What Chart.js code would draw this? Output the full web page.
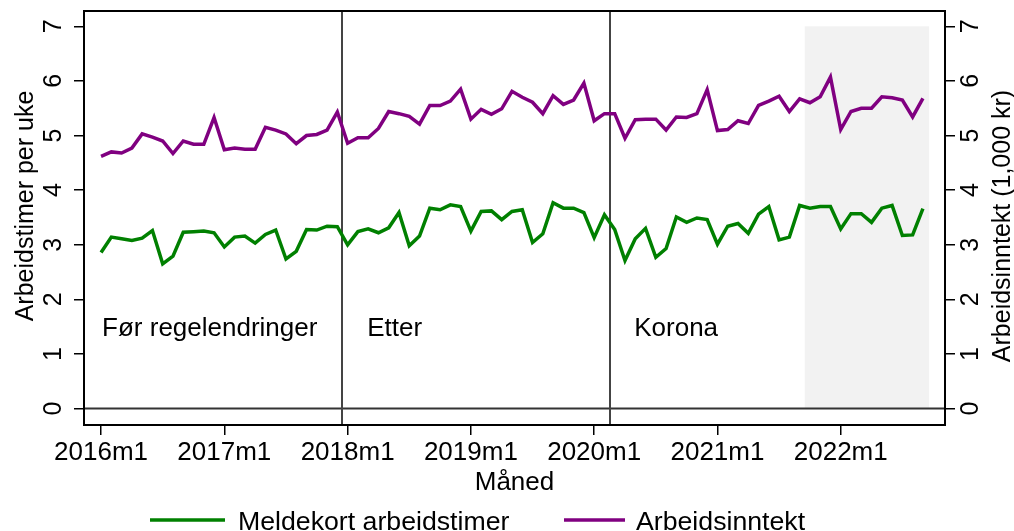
<!DOCTYPE html>
<html>
<head>
<meta charset="utf-8">
<script src="https://cdn.jsdelivr.net/npm/chart.js@4/dist/chart.umd.min.js"></script>
<style>
html, body { margin: 0; padding: 0; background: #fff; }
#wrap { width: 1014px; height: 531px; }
</style>
</head>
<body>
<div id="wrap"><canvas id="chart" width="1014" height="531"></canvas></div>
<script>
// months 2016m1 .. 2022m9
const months = [];
for (let i = 0; i < 81; i++) months.push((2016 + Math.floor(i / 12)) + 'm' + (i % 12 + 1));

// Meldekort arbeidstimer (timer per uke)
const hours = [
  2.86, 3.14, 3.11, 3.08, 3.12, 3.26, 2.65, 2.79, 3.23, 3.24, 3.25, 3.22,
  2.96, 3.14, 3.16, 3.03, 3.19, 3.27, 2.74, 2.88, 3.28, 3.27, 3.34, 3.33,
  3.00, 3.24, 3.29, 3.22, 3.31, 3.59, 2.98, 3.16, 3.67, 3.64, 3.73, 3.70,
  3.25, 3.61, 3.62, 3.46, 3.61, 3.64, 3.04, 3.20, 3.77, 3.67, 3.67, 3.59,
  3.13, 3.55, 3.28, 2.71, 3.11, 3.30, 2.77, 2.93, 3.51, 3.41, 3.49, 3.46,
  3.01, 3.34, 3.39, 3.21, 3.56, 3.70, 3.09, 3.14, 3.72, 3.67, 3.70, 3.70,
  3.29, 3.57, 3.57, 3.41, 3.67, 3.72, 3.17, 3.18, 3.66
];

// Arbeidsinntekt (1,000 kr)
const income = [
  4.62, 4.70, 4.68, 4.77, 5.03, 4.97, 4.90, 4.67, 4.90, 4.84, 4.84, 5.33,
  4.74, 4.77, 4.75, 4.75, 5.15, 5.10, 5.03, 4.85, 5.00, 5.02, 5.10, 5.43,
  4.86, 4.96, 4.96, 5.13, 5.44, 5.40, 5.35, 5.21, 5.55, 5.55, 5.63, 5.85,
  5.30, 5.48, 5.39, 5.49, 5.81, 5.70, 5.61, 5.40, 5.73, 5.57, 5.65, 5.96,
  5.27, 5.40, 5.40, 4.95, 5.29, 5.30, 5.30, 5.10, 5.34, 5.33, 5.40, 5.84,
  5.09, 5.11, 5.27, 5.22, 5.55, 5.63, 5.72, 5.44, 5.67, 5.60, 5.71, 6.07,
  5.11, 5.44, 5.50, 5.50, 5.71, 5.69, 5.65, 5.34, 5.68
];

const xTickMonths = ['2016m1', '2017m1', '2018m1', '2019m1', '2020m1', '2021m1', '2022m1'];
const yTicks = [0, 1, 2, 3, 4, 5, 6, 7];
const periodNames = ['Før regelendringer', 'Etter', 'Korona'];

const FONT = "'Liberation Sans', Arial, Helvetica, sans-serif";
const GREEN = '#008000';
const PURPLE = '#800080';

// breaks between periods sit half a month after 2017m12 and 2020m2
const breaks = [months.indexOf('2017m12') + 0.5, months.indexOf('2020m2') + 0.5];
const labelAt = [0.1, 25.9, 51.9];
const shade = [68.5, 80.6];

const decor = {
  id: 'decor',
  beforeDatasetsDraw(chart) {
    const { ctx, chartArea: a, scales: { x, y } } = chart;
    ctx.save();
    // grey band at the end
    const sx0 = x.getPixelForValue(shade[0]), sx1 = x.getPixelForValue(shade[1]);
    const top7 = y.getPixelForValue(7), y0 = y.getPixelForValue(0);
    ctx.fillStyle = '#f2f2f2';
    ctx.fillRect(sx0, top7, sx1 - sx0, y0 - top7);

    // zero line
    ctx.strokeStyle = '#333';
    ctx.lineWidth = 2;
    ctx.beginPath();
    ctx.moveTo(a.left, y0);
    ctx.lineTo(a.right, y0);
    ctx.stroke();

    // period breaks
    ctx.strokeStyle = '#444';
    ctx.lineWidth = 2;
    breaks.forEach(b => {
      const px = Math.round(x.getPixelForValue(b));
      ctx.beginPath();
      ctx.moveTo(px, a.top);
      ctx.lineTo(px, a.bottom);
      ctx.stroke();
    });

    // period names
    ctx.fillStyle = '#000';
    ctx.font = '26px ' + FONT;
    ctx.textAlign = 'left';
    ctx.textBaseline = 'alphabetic';
    periodNames.forEach((name, i) => {
      ctx.fillText(name, x.getPixelForValue(labelAt[i]), y.getPixelForValue(1.33));
    });
    ctx.restore();
  },
  afterDraw(chart) {
    const { ctx, chartArea: a, scales: { y, y2 } } = chart;
    ctx.save();
    // frame
    ctx.strokeStyle = '#000';
    ctx.lineWidth = 2;
    ctx.strokeRect(a.left, a.top, a.right - a.left, a.bottom - a.top);

    // rotated tick labels on both sides
    ctx.fillStyle = '#000';
    ctx.font = '25px ' + FONT;
    ctx.textAlign = 'center';
    ctx.textBaseline = 'alphabetic';
    const rot = (txt, px, py) => {
      ctx.save();
      ctx.translate(px, py);
      ctx.rotate(-Math.PI / 2);
      ctx.fillText(txt, 0, 0);
      ctx.restore();
    };
    yTicks.forEach(v => {
      rot(String(v), a.left - 23, y.getPixelForValue(v));
      rot(String(v), a.right + 33, y2.getPixelForValue(v));
    });

    // axis titles
    rot('Arbeidstimer per uke', 33, 206);
    rot('Arbeidsinntekt (1,000 kr)', 1010, 226);
    ctx.font = '26px ' + FONT;
    ctx.textAlign = 'center';
    ctx.fillText('Måned', (a.left + a.right) / 2, 490);

    // legend
    ctx.font = '26.7px ' + FONT;
    ctx.textAlign = 'left';
    ctx.lineWidth = 3.5;
    const items = [
      { color: GREEN, text: 'Meldekort arbeidstimer', x0: 150, x1: 225, tx: 238 },
      { color: PURPLE, text: 'Arbeidsinntekt', x0: 564, x1: 625, tx: 636 }
    ];
    items.forEach(it => {
      ctx.strokeStyle = it.color;
      ctx.beginPath();
      ctx.moveTo(it.x0, 520);
      ctx.lineTo(it.x1, 520);
      ctx.stroke();
      ctx.fillText(it.text, it.tx, 530);
    });
    ctx.restore();
  }
};

const yAxis = (pos, w) => ({
  type: 'linear',
  position: pos,
  min: -0.3,
  max: 7.28,
  afterFit: s => { s.width = w; },
  afterBuildTicks: s => { s.ticks = yTicks.map(v => ({ value: v })); },
  ticks: { display: false },
  grid: { drawOnChartArea: false, tickLength: 10, color: '#000', lineWidth: 1.5 },
  border: { display: false }
});

new Chart(document.getElementById('chart').getContext('2d'), {
  type: 'line',
  data: {
    datasets: [
      {
        label: 'Meldekort arbeidstimer',
        data: hours.map((v, i) => ({ x: i, y: v })),
        borderColor: GREEN,
        yAxisID: 'y'
      },
      {
        label: 'Arbeidsinntekt',
        data: income.map((v, i) => ({ x: i, y: v })),
        borderColor: PURPLE,
        yAxisID: 'y2'
      }
    ]
  },
  options: {
    responsive: false,
    animation: false,
    layout: { padding: { top: 11 } },
    elements: {
      point: { radius: 0 },
      line: { tension: 0, borderWidth: 3.5, fill: false }
    },
    plugins: { legend: { display: false }, tooltip: { enabled: false } },
    scales: {
      x: {
        type: 'linear',
        position: 'bottom',
        min: -1.66,
        max: 82.15,
        afterFit: s => { s.height = 106; },
        afterBuildTicks: s => { s.ticks = xTickMonths.map(m => ({ value: months.indexOf(m) })); },
        ticks: {
          callback: v => months[v],
          font: { family: FONT, size: 26 },
          color: '#000',
          padding: 2,
          maxRotation: 0,
          autoSkip: false
        },
        grid: { drawOnChartArea: false, tickLength: 10, color: '#000', lineWidth: 1.5 },
        border: { display: false }
      },
      y: yAxis('left', 84),
      y2: yAxis('right', 69)
    }
  },
  plugins: [decor]
});
</script>
</body>
</html>
